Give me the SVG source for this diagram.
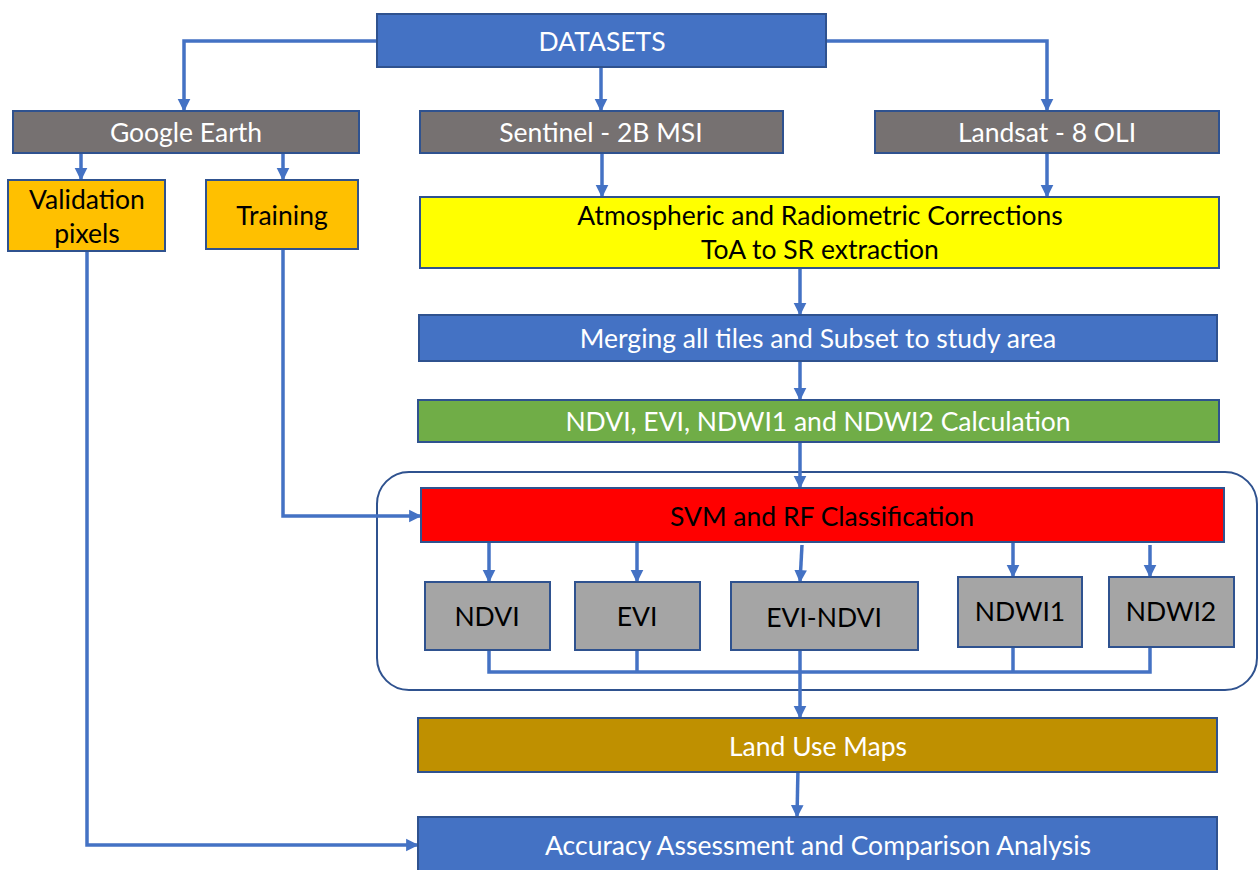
<svg xmlns="http://www.w3.org/2000/svg" width="1258" height="870" viewBox="0 0 1258 870">
<style>
.box{stroke:#2F528F;stroke-width:2}
.blue{fill:#4472C4}.grey{fill:#767171}.orange{fill:#FFC000}.yellow{fill:#FFFF00}.green{fill:#70AD47}.red{fill:#FF0000}.lgrey{fill:#A5A5A5}.brown{fill:#BF9000}
text{font-family:Lato,"Liberation Sans",sans-serif;font-size:26.5px;text-anchor:middle;dominant-baseline:central}
.w{fill:#FFFFFF}.k{fill:#000000}
.c{fill:none;stroke:#4472C4;stroke-width:3.5}
.a{marker-end:url(#ah)}
</style>
<defs>
<marker id="ah" markerWidth="4" markerHeight="4" refX="3.4" refY="2" orient="auto" markerUnits="strokeWidth">
<path d="M0,0.2 L3.6,2 L0,3.8 Z" fill="#4472C4"/>
</marker>
</defs>
<rect x="377" y="472" width="880" height="218" rx="32" fill="none" stroke="#2F528F" stroke-width="2"/>
<g id="connectors">
<path class="c a" d="M377,41 H184 V111"/>
<path class="c a" d="M601,67 V111"/>
<path class="c a" d="M826,41 H1047 V111"/>
<path class="c a" d="M81,153 V180"/>
<path class="c a" d="M283,153 V180"/>
<path class="c a" d="M602,153 V197"/>
<path class="c a" d="M1047,153 V197"/>
<path class="c a" d="M800,268 V315"/>
<path class="c a" d="M800,361 V400"/>
<path class="c a" d="M800,442 V488"/>
<path class="c a" d="M283,249 V516 H421"/>
<path class="c a" d="M87,251 V845 H418"/>
<path class="c a" d="M489,542 V582"/>
<path class="c a" d="M637,542 V582"/>
<path class="c a" d="M802,545 L800,582"/>
<path class="c a" d="M1013,542 V577"/>
<path class="c a" d="M1150,545 V577"/>
<path class="c" d="M489,650 V672 H1150 V647"/>
<path class="c" d="M637,650 V672"/>
<path class="c" d="M1013,647 V672"/>
<path class="c a" d="M800,650 V718"/>
<path class="c a" d="M798,768 L797,817"/>
</g>
<g id="datasets"><rect class="box blue" x="377" y="14" width="449" height="53"/><text class="w" x="602" y="41">DATASETS</text></g>
<g id="google-earth"><rect class="box grey" x="13" y="111" width="346" height="42"/><text class="w" x="186" y="132">Google Earth</text></g>
<g id="sentinel"><rect class="box grey" x="420" y="111" width="363" height="42"/><text class="w" x="601" y="132">Sentinel - 2B MSI</text></g>
<g id="landsat"><rect class="box grey" x="875" y="111" width="344" height="42"/><text class="w" x="1047" y="132">Landsat - 8 OLI</text></g>
<g id="validation"><rect class="box orange" x="8" y="180" width="157" height="71"/><text class="k" x="87" y="199">Validation</text><text class="k" x="87" y="233">pixels</text></g>
<g id="training"><rect class="box orange" x="206" y="180" width="152" height="69"/><text class="k" x="282" y="215">Training</text></g>
<g id="corrections"><rect class="box yellow" x="420" y="197" width="799" height="71"/><text class="k" x="820" y="215">Atmospheric and Radiometric Corrections</text><text class="k" x="820" y="249">ToA to SR extraction</text></g>
<g id="merging"><rect class="box blue" x="419" y="315" width="798" height="46"/><text class="w" x="818" y="338">Merging all tiles and Subset to study area</text></g>
<g id="indices"><rect class="box green" x="418" y="400" width="801" height="42"/><text class="w" x="818" y="421">NDVI, EVI, NDWI1 and NDWI2 Calculation</text></g>
<g id="classification"><rect class="box red" x="421" y="488" width="803" height="54"/><text class="k" x="822" y="516">SVM and RF Classification</text></g>
<g id="ndvi"><rect class="box lgrey" x="425" y="582" width="125" height="68"/><text class="k" x="487" y="616">NDVI</text></g>
<g id="evi"><rect class="box lgrey" x="575" y="582" width="125" height="68"/><text class="k" x="637" y="616">EVI</text></g>
<g id="evi-ndvi"><rect class="box lgrey" x="731" y="582" width="187" height="68"/><text class="k" x="824" y="617">EVI-NDVI</text></g>
<g id="ndwi1"><rect class="box lgrey" x="958" y="577" width="124" height="70"/><text class="k" x="1020" y="611">NDWI1</text></g>
<g id="ndwi2"><rect class="box lgrey" x="1109" y="577" width="125" height="70"/><text class="k" x="1171" y="611">NDWI2</text></g>
<g id="land-use"><rect class="box brown" x="418" y="718" width="799" height="54"/><text class="w" x="818" y="746">Land Use Maps</text></g>
<g id="accuracy"><rect class="box blue" x="418" y="817" width="799" height="60"/><text class="w" x="818" y="845">Accuracy Assessment and Comparison Analysis</text></g>
</svg>
